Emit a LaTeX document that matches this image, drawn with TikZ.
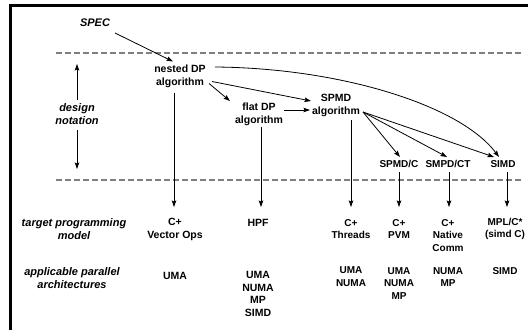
\documentclass[tikz,border=0pt]{standalone}
\usepackage{fontspec}
\setmainfont{Liberation Sans}
\usetikzlibrary{arrows.meta,calc}
\begin{document}
\begin{tikzpicture}[x=1pt,y=-1pt,
  lab/.style={font=\bfseries\fontsize{10.5}{13}\selectfont, align=center, inner sep=0pt},
  slab/.style={font=\bfseries\fontsize{10}{12.8}\selectfont, align=center, inner sep=0pt},
  ilab/.style={font=\bfseries\itshape\fontsize{11}{13}\selectfont, align=center, inner sep=0pt},
  arr/.style={-{Stealth[length=6.5pt,width=4.5pt,inset=1pt]}, line width=0.8pt},
  gdash/.style={draw=black!50, line width=1.3pt, dash pattern=on 5.5pt off 3.5pt}
]
\useasboundingbox (0,0) rectangle (528,330);
% frame
\fill (9,4) rectangle (528,6.5);
\fill (9,4) rectangle (12,330);
% dashed separators
\coordinate (t1) at (56,53);
\coordinate (t2) at (523,53);
\coordinate (b1) at (56,180);
\coordinate (b2) at (523,180);
\draw[gdash] (t1) -- (t2);
\draw[gdash] (b1) -- (b2);

% left labels
\node[ilab] (spec) at (95,22.5) {SPEC};
\node[ilab] (design) at (77,114.5) {design\\notation};
\node[ilab] (tpm) at (74,229.5) {target programming\\model};
\node[ilab] (apa) at (72,278) {applicable parallel\\architectures};

% design nodes
\node[lab] (nested) at (180,76.5) {nested DP\\algorithm};
\node[lab] (flat) at (259,114) {flat DP\\algorithm};
\node[lab] (spmd) at (336,105) {SPMD\\algorithm};
\node[slab] (spmdc) at (399,164) {SPMD/C};
\node[slab] (smpdct) at (448,164) {SMPD/CT};
\node[slab] (simd) at (503,164) {SIMD};

% target models
\node[lab] (cvec) at (175,229) {C+\\Vector Ops};
\node[lab] (hpf) at (258,223) {HPF};
\node[slab] (cthr) at (351,229) {C+\\Threads};
\node[slab] (cpvm) at (399,229) {C+\\PVM};
\node[slab] (cnat) at (448,235.5) {C+\\Native\\Comm};
\node[slab] (mpl) at (505,229) {MPL/C*\\(simd C)};

% architectures
\node[lab] (a1) at (175,276) {UMA};
\node[lab, font=\bfseries\fontsize{10.5}{12.5}\selectfont] (a2) at (258,294) {UMA\\NUMA\\MP\\SIMD};
\node[slab] (a3) at (351,277) {UMA\\NUMA};
\node[slab] (a4) at (399,283.5) {UMA\\NUMA\\MP};
\node[slab] (a5) at (448,277) {NUMA\\MP};
\node[slab] (a6) at (505,271) {SIMD};

% design notation arrow
\coordinate (dtop) at (77,64);
\coordinate (dbot) at (77,169);
\draw[arr] ($(design.north)+(0,-4)$) -- (dtop);
\draw[arr] ($(design.south)+(0,5)$) -- (dbot);

% connectors
\draw[arr] ($(spec)+(20,10.5)$) -- ($(nested)+(-7,-15)$);
\draw[arr] ($(nested)+(29,7)$) -- ($(flat)+(-29,-13)$);
\draw[arr] ($(nested)+(32,5)$) -- ($(spmd)+(-25,-4)$);
\draw[arr] ($(nested)+(35,-9.5)$) .. controls (340,68) and (460,105) .. ($(simd)+(-4,-7)$);
\draw[arr] ($(flat)+(25,-4)$) -- ($(spmd)+(-26,5)$);
\draw[arr] ($(spmd)+(27,7)$) -- ($(spmdc)+(1,-7)$);
\draw[arr] ($(spmd)+(27,7)$) -- ($(smpdct)+(-1,-7)$);
\draw[arr] ($(spmd)+(27,7)$) -- ($(simd)+(-9,-7)$);

% downward arrows
\draw[arr] ($(nested)+(-6,16)$) -- ($(cvec)+(-1,-22)$);
\draw[arr] ($(flat)+(2,13)$) -- ($(hpf)+(3,-16)$);
\draw[arr] ($(spmd)+(15,15)$) -- ($(cthr)+(0,-22)$);
\draw[arr] ($(spmdc)+(0,8)$) -- ($(cpvm)+(0,-22)$);
\draw[arr] ($(smpdct)+(1,8)$) -- ($(cnat)+(1,-28.5)$);
\draw[arr] ($(simd)+(4,8)$) -- ($(mpl)+(2,-22)$);
\end{tikzpicture}
\end{document}
